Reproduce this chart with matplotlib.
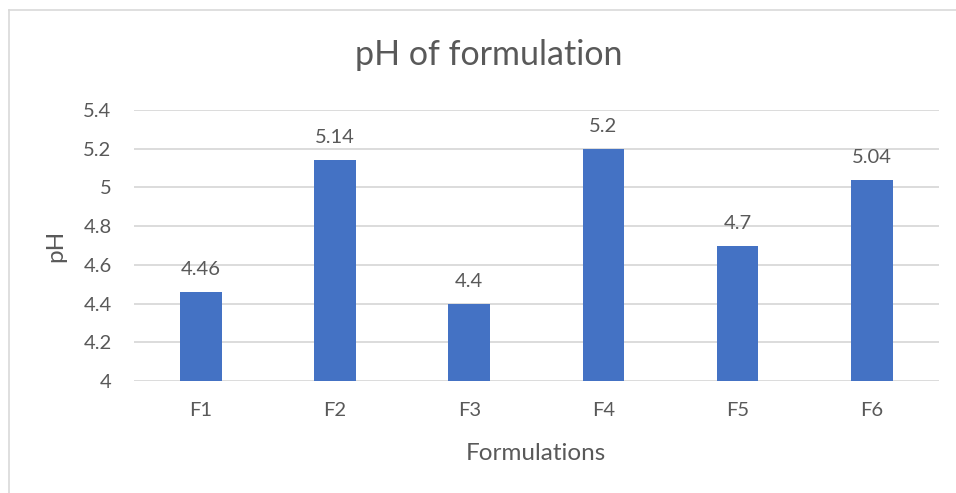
import matplotlib
matplotlib.use('Agg')
import matplotlib.pyplot as plt
from matplotlib.lines import Line2D
import numpy as np

plt.rcParams['font.family'] = ['Lato', 'DejaVu Sans']

formulations = ['F1', 'F2', 'F3', 'F4', 'F5', 'F6']
ph_values = [4.46, 5.14, 4.4, 5.2, 4.7, 5.04]
y_ticks = [4, 4.2, 4.4, 4.6, 4.8, 5, 5.2, 5.4]
y_tick_labels = ['4', '4.2', '4.4', '4.6', '4.8', '5', '5.2', '5.4']

text_color = '#595959'
bar_color = '#4472C4'
grid_color = '#D9D9D9'

fig = plt.figure(figsize=(9.56, 4.93), dpi=100)
ax = fig.add_axes([0.140, 0.227, 0.842, 0.550])

x = np.arange(len(formulations))
bars = ax.bar(x, ph_values, width=0.31, color=bar_color, zorder=3)

for bar, val in zip(bars, ph_values):
    ax.annotate(f'{val:g}', (bar.get_x() + bar.get_width() / 2, val),
                xytext=(0, 10), textcoords='offset points',
                ha='center', va='bottom', fontsize=14.5, color=text_color)

ax.set_xlim(-0.5, len(formulations) - 0.5)
ax.set_ylim(4, 5.4)
ax.set_yticks(y_ticks)
ax.set_yticklabels(y_tick_labels)
ax.set_xticks(x)
ax.set_xticklabels(formulations)
ax.tick_params(axis='both', length=0, labelsize=14.5, labelcolor=text_color)
ax.tick_params(axis='x', pad=15)
ax.tick_params(axis='y', pad=16)

ax.grid(True, axis='y', color=grid_color, linewidth=1.3, zorder=0)
for s in ax.spines.values():
    s.set_visible(False)

ax.set_xlabel('Formulations', fontsize=17.5, color=text_color, labelpad=17)
ax.set_ylabel('pH', fontsize=17.5, color=text_color, labelpad=12)
fig.text(0.511, 0.888, 'pH of formulation', ha='center', va='center',
         fontsize=24.5, color=text_color)

# chart border (Excel-like frame, only left and top visible)
fig.add_artist(Line2D([8.5 / 956, 8.5 / 956], [0, 1 - 10 / 493],
                      transform=fig.transFigure, color='#D9D9D9', linewidth=1.2))
fig.add_artist(Line2D([8.5 / 956, 1], [1 - 10 / 493, 1 - 10 / 493],
                      transform=fig.transFigure, color='#D9D9D9', linewidth=1.2))

fig.savefig('out.png', dpi=100)
